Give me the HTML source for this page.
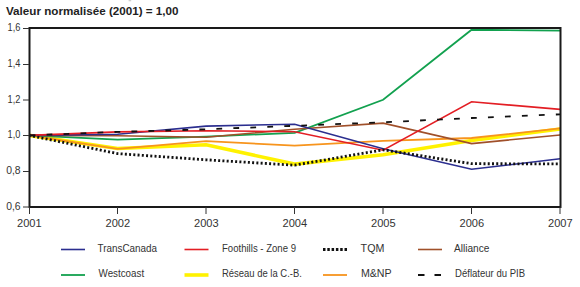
<!DOCTYPE html>
<html><head><meta charset="utf-8"><style>
html,body{margin:0;padding:0;background:#fff;width:580px;height:287px;overflow:hidden}
svg{display:block;font-family:"Liberation Sans",sans-serif;fill:#222}
</style></head><body>
<svg width="580" height="287" viewBox="0 0 580 287">
<polyline points="29.10,135.4 117.60,148.5 206.10,144.8 294.60,164.1 383.10,154.8 471.60,140.5 560.10,129.0" fill="none" stroke="#fff200" stroke-width="3.6"/>
<polyline points="29.10,135.4 117.60,148.8 206.10,141.2 294.60,145.6 383.10,140.9 471.60,138.0 560.10,128.4" fill="none" stroke="#f7941d" stroke-width="1.8"/>
<polyline points="29.10,135.4 117.60,139.6 206.10,136.6 294.60,132.8 383.10,99.8 471.60,29.75 560.10,30.6" fill="none" stroke="#12a14f" stroke-width="1.8"/>
<polyline points="29.10,135.4 117.60,135.8 206.10,137.2 294.60,129.3 383.10,123.1 471.60,143.6 560.10,135.0" fill="none" stroke="#a0502a" stroke-width="1.6"/>
<polyline points="29.10,135.4 117.60,134.2 206.10,126.1 294.60,124.2 383.10,148.8 471.60,169.3 560.10,158.7" fill="none" stroke="#2b2e8f" stroke-width="1.6"/>
<polyline points="29.10,135.4 117.60,131.9 206.10,130.8 294.60,131.7 383.10,150.2 471.60,101.8 560.10,109.4" fill="none" stroke="#e31e24" stroke-width="1.6"/>
<polyline points="29.10,135.4 117.60,153.6 206.10,159.8 294.60,165.2 383.10,149.8 471.60,163.7 560.10,163.9" fill="none" stroke="#111111" stroke-width="2.8" stroke-dasharray="2.0 2.252" stroke-dashoffset="0.19"/>
<polyline points="29.10,135.4 117.60,131.9 206.10,129.3 294.60,125.8 383.10,122.3 471.60,118.0 560.10,114.3" fill="none" stroke="#111111" stroke-width="1.8" stroke-dasharray="5.8 11.19" stroke-dashoffset="-0.49"/>
<rect x="128.6" y="0" width="2.6" height="1.3" fill="#d0d0d0"/>
<rect x="29.5" y="28" width="531" height="179" fill="none" stroke="#1a1a1a" stroke-width="2"/>
<line x1="23" y1="28.5" x2="29" y2="28.5" stroke="#333" stroke-width="1"/>
<line x1="23" y1="64.5" x2="29" y2="64.5" stroke="#333" stroke-width="1"/>
<line x1="23" y1="100" x2="29" y2="100" stroke="#333" stroke-width="1"/>
<line x1="23" y1="135.5" x2="29" y2="135.5" stroke="#333" stroke-width="1"/>
<line x1="23" y1="171.5" x2="29" y2="171.5" stroke="#333" stroke-width="1"/>
<line x1="23" y1="207" x2="29" y2="207" stroke="#333" stroke-width="1"/>
<line x1="29.5" y1="207" x2="29.5" y2="214" stroke="#333" stroke-width="1"/>
<line x1="117.5" y1="207" x2="117.5" y2="214" stroke="#333" stroke-width="1"/>
<line x1="206" y1="207" x2="206" y2="214" stroke="#333" stroke-width="1"/>
<line x1="294.5" y1="207" x2="294.5" y2="214" stroke="#333" stroke-width="1"/>
<line x1="383" y1="207" x2="383" y2="214" stroke="#333" stroke-width="1"/>
<line x1="471.5" y1="207" x2="471.5" y2="214" stroke="#333" stroke-width="1"/>
<line x1="560" y1="207" x2="560" y2="214" stroke="#333" stroke-width="1"/>
<line x1="61" y1="249.5" x2="85" y2="249.5" stroke="#2b2e8f" stroke-width="1.6"/>
<line x1="184.5" y1="249.5" x2="208.5" y2="249.5" stroke="#e31e24" stroke-width="1.6"/>
<line x1="323" y1="249.5" x2="347" y2="249.5" stroke="#111111" stroke-width="2.8" stroke-dasharray="2.5 1.8"/>
<line x1="418" y1="249.5" x2="442" y2="249.5" stroke="#a0502a" stroke-width="1.6"/>
<line x1="61" y1="275" x2="85" y2="275" stroke="#12a14f" stroke-width="1.8"/>
<line x1="184.5" y1="275" x2="208.5" y2="275" stroke="#fff200" stroke-width="3.6"/>
<line x1="323" y1="275" x2="347" y2="275" stroke="#f7941d" stroke-width="1.8"/>
<line x1="418" y1="275" x2="442" y2="275" stroke="#111111" stroke-width="1.8" stroke-dasharray="6.5 10"/>
<text x="6.00" y="15.20" font-size="11px" font-weight="bold" fill="#222" textLength="172.51" lengthAdjust="spacingAndGlyphs">Valeur normalisée (2001) = 1,00</text>
<text x="7.60" y="31.00" font-size="11px" font-weight="normal" fill="#333" textLength="12.82" lengthAdjust="spacingAndGlyphs">1,6</text>
<text x="7.60" y="66.80" font-size="11px" font-weight="normal" fill="#333" textLength="12.82" lengthAdjust="spacingAndGlyphs">1,4</text>
<text x="7.60" y="102.60" font-size="11px" font-weight="normal" fill="#333" textLength="12.82" lengthAdjust="spacingAndGlyphs">1,2</text>
<text x="7.60" y="138.40" font-size="11px" font-weight="normal" fill="#333" textLength="12.82" lengthAdjust="spacingAndGlyphs">1,0</text>
<text x="6.20" y="174.20" font-size="11px" font-weight="normal" fill="#333" textLength="14.42" lengthAdjust="spacingAndGlyphs">0,8</text>
<text x="6.20" y="210.00" font-size="11px" font-weight="normal" fill="#333" textLength="14.42" lengthAdjust="spacingAndGlyphs">0,6</text>
<text x="17.00" y="227.20" font-size="11px" font-weight="normal" fill="#333" textLength="24.64" lengthAdjust="spacingAndGlyphs">2001</text>
<text x="105.50" y="227.20" font-size="11px" font-weight="normal" fill="#333" textLength="24.68" lengthAdjust="spacingAndGlyphs">2002</text>
<text x="194.00" y="227.20" font-size="11px" font-weight="normal" fill="#333" textLength="24.64" lengthAdjust="spacingAndGlyphs">2003</text>
<text x="282.50" y="227.20" font-size="11px" font-weight="normal" fill="#333" textLength="24.68" lengthAdjust="spacingAndGlyphs">2004</text>
<text x="371.00" y="227.20" font-size="11px" font-weight="normal" fill="#333" textLength="24.64" lengthAdjust="spacingAndGlyphs">2005</text>
<text x="459.50" y="227.20" font-size="11px" font-weight="normal" fill="#333" textLength="24.64" lengthAdjust="spacingAndGlyphs">2006</text>
<text x="548.00" y="227.20" font-size="11px" font-weight="normal" fill="#333" textLength="24.64" lengthAdjust="spacingAndGlyphs">2007</text>
<text x="97.60" y="252.20" font-size="11px" font-weight="normal" fill="#333" textLength="59.42" lengthAdjust="spacingAndGlyphs">TransCanada</text>
<text x="222.00" y="252.20" font-size="11px" font-weight="normal" fill="#333" textLength="74.00" lengthAdjust="spacingAndGlyphs">Foothills - Zone 9</text>
<text x="360.60" y="252.20" font-size="11px" font-weight="normal" fill="#333" textLength="23.77" lengthAdjust="spacingAndGlyphs">TQM</text>
<text x="453.90" y="252.20" font-size="11px" font-weight="normal" fill="#333" textLength="35.43" lengthAdjust="spacingAndGlyphs">Alliance</text>
<text x="98.60" y="277.40" font-size="11px" font-weight="normal" fill="#333" textLength="45.52" lengthAdjust="spacingAndGlyphs">Westcoast</text>
<text x="222.00" y="277.40" font-size="11px" font-weight="normal" fill="#333" textLength="79.83" lengthAdjust="spacingAndGlyphs">Réseau de la C.-B.</text>
<text x="360.90" y="277.40" font-size="11px" font-weight="normal" fill="#333" textLength="30.73" lengthAdjust="spacingAndGlyphs">M&amp;NP</text>
<text x="455.10" y="277.40" font-size="11px" font-weight="normal" fill="#333" textLength="69.91" lengthAdjust="spacingAndGlyphs">Déflateur du PIB</text>
</svg>
</body></html>
